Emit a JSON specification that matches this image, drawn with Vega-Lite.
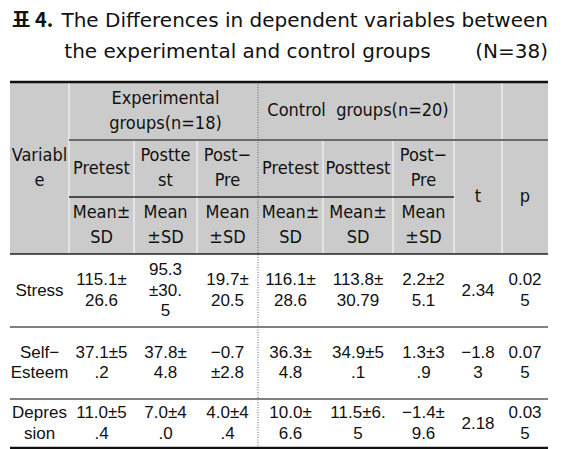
{
  "$schema": "https://vega.github.io/schema/vega-lite/v6.json",
  "width": 568,
  "height": 449,
  "autosize": {"type": "none"},
  "padding": 0,
  "background": "white",
  "config": {"view": {"stroke": null}},
  "datasets": {
    "areas": [{"part": "header", "c0": 0, "c1": 9, "r0": 0, "r1": 3}],
    "hrules": [
      {"kind": "outer", "r": 0, "c0": 0, "c1": 9},
      {"kind": "group", "r": 1, "c0": 1, "c1": 9},
      {"kind": "sub", "r": 2, "c0": 1, "c1": 7},
      {"kind": "head", "r": 3, "c0": 0, "c1": 9},
      {"kind": "row", "r": 4, "c0": 0, "c1": 9},
      {"kind": "row", "r": 5, "c0": 0, "c1": 9},
      {"kind": "outer", "r": 6, "c0": 0, "c1": 9}
    ],
    "vrules": [
      {"kind": "sep", "c": 1, "r0": 0, "r1": 3},
      {"kind": "sep", "c": 2, "r0": 1, "r1": 3},
      {"kind": "sep", "c": 3, "r0": 1, "r1": 3},
      {"kind": "sep", "c": 5, "r0": 1, "r1": 3},
      {"kind": "sep", "c": 6, "r0": 1, "r1": 3},
      {"kind": "sep", "c": 7, "r0": 0, "r1": 3},
      {"kind": "sep", "c": 8, "r0": 0, "r1": 3},
      {"kind": "dotted", "c": 4, "r0": 0, "r1": 6}
    ],
    "title": [
      {"part": "label", "row": -2, "col": 0, "text": "표 4."},
      {"part": "main", "row": -2, "col": 9, "text": "The Differences in dependent variables between"},
      {"part": "main", "row": -1, "col": 9, "text": "the experimental and control groups\u00a0\u00a0\u00a0\u00a0\u00a0\u00a0 (N=38)"}
    ],
    "header": [
      {"row": 1.5, "col": 0.5, "text": "Variabl\ne"},
      {"row": 0.5, "col": 2.5, "text": "Experimental\ngroups(n=18)"},
      {"row": 0.5, "col": 5.5, "text": "Control\u00a0 groups(n=20)"},
      {"row": 2, "col": 7.5, "text": "t"},
      {"row": 2, "col": 8.5, "text": "p"},
      {"row": 1.5, "col": 1.5, "text": "Pretest"},
      {"row": 1.5, "col": 2.5, "text": "Postte\nst"},
      {"row": 1.5, "col": 3.5, "text": "Post−\nPre"},
      {"row": 1.5, "col": 4.5, "text": "Pretest"},
      {"row": 1.5, "col": 5.5, "text": "Posttest"},
      {"row": 1.5, "col": 6.5, "text": "Post−\nPre"},
      {"row": 2.5, "col": 1.5, "text": "Mean±\nSD"},
      {"row": 2.5, "col": 2.5, "text": "Mean\n±SD"},
      {"row": 2.5, "col": 3.5, "text": "Mean\n±SD"},
      {"row": 2.5, "col": 4.5, "text": "Mean±\nSD"},
      {"row": 2.5, "col": 5.5, "text": "Mean±\nSD"},
      {"row": 2.5, "col": 6.5, "text": "Mean\n±SD"}
    ],
    "body": [
      {"row": 3.5, "col": 0.5, "text": "Stress"},
      {"row": 3.5, "col": 1.5, "text": "115.1±\n26.6"},
      {"row": 3.5, "col": 2.5, "text": "95.3\n±30.\n5"},
      {"row": 3.5, "col": 3.5, "text": "19.7±\n20.5"},
      {"row": 3.5, "col": 4.5, "text": "116.1±\n28.6"},
      {"row": 3.5, "col": 5.5, "text": "113.8±\n30.79"},
      {"row": 3.5, "col": 6.5, "text": "2.2±2\n5.1"},
      {"row": 3.5, "col": 7.5, "text": "2.34"},
      {"row": 3.5, "col": 8.5, "text": "0.02\n5"},
      {"row": 4.5, "col": 0.5, "text": "Self−\nEsteem"},
      {"row": 4.5, "col": 1.5, "text": "37.1±5\n.2"},
      {"row": 4.5, "col": 2.5, "text": "37.8±\n4.8"},
      {"row": 4.5, "col": 3.5, "text": "−0.7\n±2.8"},
      {"row": 4.5, "col": 4.5, "text": "36.3±\n4.8"},
      {"row": 4.5, "col": 5.5, "text": "34.9±5\n.1"},
      {"row": 4.5, "col": 6.5, "text": "1.3±3\n.9"},
      {"row": 4.5, "col": 7.5, "text": "−1.8\n3"},
      {"row": 4.5, "col": 8.5, "text": "0.07\n5"},
      {"row": 5.5, "col": 0.5, "text": "Depres\nsion"},
      {"row": 5.5, "col": 1.5, "text": "11.0±5\n.4"},
      {"row": 5.5, "col": 2.5, "text": "7.0±4\n.0"},
      {"row": 5.5, "col": 3.5, "text": "4.0±4\n.4"},
      {"row": 5.5, "col": 4.5, "text": "10.0±\n6.6"},
      {"row": 5.5, "col": 5.5, "text": "11.5±6.\n5"},
      {"row": 5.5, "col": 6.5, "text": "−1.4±\n9.6"},
      {"row": 5.5, "col": 7.5, "text": "2.18"},
      {"row": 5.5, "col": 8.5, "text": "0.03\n5"}
    ]
  },
  "layer": [
    {
      "data": {"name": "areas"},
      "mark": {"type": "rect", "fill": "#cbcbcb", "stroke": null},
      "encoding": {
        "x": {"field": "c0", "type": "quantitative", "axis": null, "scale": {"type": "linear", "domain": [0,1,2,3,4,5,6,7,8,9], "range": [10,69,134,197,258,323,393,454,502,548], "zero": false, "nice": false}},
        "x2": {"field": "c1"},
        "y": {"field": "r0", "type": "quantitative", "axis": null, "scale": {"type": "linear", "domain": [-2,-1,0,1,2,3,4,5,6], "range": [27,58,82,140,197,254,327,399,448], "zero": false, "nice": false}},
        "y2": {"field": "r1"}
      }
    },
    {
      "data": {"name": "vrules"},
      "transform": [{"filter": "datum.kind === 'sep'"}],
      "mark": {"type": "rule", "color": "#ececec", "strokeWidth": 1.5},
      "encoding": {
        "x": {"field": "c", "type": "quantitative"},
        "y": {"field": "r0", "type": "quantitative"},
        "y2": {"field": "r1"}
      }
    },
    {
      "data": {"name": "vrules"},
      "transform": [{"filter": "datum.kind === 'dotted'"}],
      "mark": {"type": "rule", "color": "#666666", "strokeWidth": 1, "strokeDash": [1, 1.5]},
      "encoding": {
        "x": {"field": "c", "type": "quantitative"},
        "y": {"field": "r0", "type": "quantitative"},
        "y2": {"field": "r1"}
      }
    },
    {
      "data": {"name": "hrules"},
      "transform": [{"filter": "datum.kind === 'outer'"}],
      "mark": {"type": "rule", "color": "#111111", "strokeWidth": 2.5},
      "encoding": {
        "x": {"field": "c0", "type": "quantitative"},
        "x2": {"field": "c1"},
        "y": {"field": "r", "type": "quantitative"}
      }
    },
    {
      "data": {"name": "hrules"},
      "transform": [{"filter": "datum.kind === 'group'"}],
      "mark": {"type": "rule", "color": "#6a6a6a", "strokeWidth": 2},
      "encoding": {
        "x": {"field": "c0", "type": "quantitative"},
        "x2": {"field": "c1"},
        "y": {"field": "r", "type": "quantitative"}
      }
    },
    {
      "data": {"name": "hrules"},
      "transform": [{"filter": "datum.kind === 'sub' || datum.kind === 'head'"}],
      "mark": {"type": "rule", "color": "#222222", "strokeWidth": 1.3},
      "encoding": {
        "x": {"field": "c0", "type": "quantitative"},
        "x2": {"field": "c1"},
        "y": {"field": "r", "type": "quantitative"}
      }
    },
    {
      "data": {"name": "hrules"},
      "transform": [{"filter": "datum.kind === 'row'"}],
      "mark": {"type": "rule", "color": "#808080", "strokeWidth": 1.8},
      "encoding": {
        "x": {"field": "c0", "type": "quantitative"},
        "x2": {"field": "c1"},
        "y": {"field": "r", "type": "quantitative"}
      }
    },
    {
      "data": {"name": "title"},
      "transform": [{"filter": "datum.part === 'label'"}],
      "mark": {"type": "text", "align": "left", "baseline": "alphabetic", "dx": 2, "font": "Noto Sans CJK KR", "fontWeight": "bold", "fontSize": 20, "color": "#111111"},
      "encoding": {
        "x": {"field": "col", "type": "quantitative"},
        "y": {"field": "row", "type": "quantitative"},
        "text": {"field": "text"}
      }
    },
    {
      "data": {"name": "title"},
      "transform": [{"filter": "datum.part === 'main'"}],
      "mark": {"type": "text", "align": "right", "baseline": "alphabetic", "font": "DejaVu Sans", "fontSize": 20, "color": "#111111"},
      "encoding": {
        "x": {"field": "col", "type": "quantitative"},
        "y": {"field": "row", "type": "quantitative"},
        "text": {"field": "text"}
      }
    },
    {
      "data": {"name": "header"},
      "transform": [{"filter": "indexof(datum.text, '\\n') < 0"}],
      "mark": {"type": "text", "align": "center", "baseline": "middle", "font": "DejaVu Sans Condensed, Roboto", "fontSize": 18, "lineHeight": 25, "lineBreak": "\n", "color": "#111111"},
      "encoding": {
        "x": {"field": "col", "type": "quantitative"},
        "y": {"field": "row", "type": "quantitative"},
        "text": {"field": "text"}
      }
    },
    {
      "data": {"name": "header"},
      "transform": [{"filter": "indexof(datum.text, '\\n') >= 0"}],
      "mark": {"type": "text", "align": "center", "baseline": "middle", "dy": -12.5, "font": "DejaVu Sans Condensed, Roboto", "fontSize": 18, "lineHeight": 25, "lineBreak": "\n", "color": "#111111"},
      "encoding": {
        "x": {"field": "col", "type": "quantitative"},
        "y": {"field": "row", "type": "quantitative"},
        "text": {"field": "text"}
      }
    },
    {
      "data": {"name": "body"},
      "transform": [{"filter": "indexof(datum.text, '\\n') < 0"}],
      "mark": {"type": "text", "align": "center", "baseline": "middle", "font": "Liberation Sans", "fontSize": 17, "lineHeight": 20.5, "lineBreak": "\n", "color": "#111111"},
      "encoding": {
        "x": {"field": "col", "type": "quantitative"},
        "y": {"field": "row", "type": "quantitative"},
        "text": {"field": "text"}
      }
    },
    {
      "data": {"name": "body"},
      "transform": [{"filter": "indexof(datum.text, '\\n') >= 0 && indexof(datum.text, '\\n') === lastindexof(datum.text, '\\n')"}],
      "mark": {"type": "text", "align": "center", "baseline": "middle", "dy": -10.25, "font": "Liberation Sans", "fontSize": 17, "lineHeight": 20.5, "lineBreak": "\n", "color": "#111111"},
      "encoding": {
        "x": {"field": "col", "type": "quantitative"},
        "y": {"field": "row", "type": "quantitative"},
        "text": {"field": "text"}
      }
    },
    {
      "data": {"name": "body"},
      "transform": [{"filter": "indexof(datum.text, '\\n') >= 0 && indexof(datum.text, '\\n') !== lastindexof(datum.text, '\\n')"}],
      "mark": {"type": "text", "align": "center", "baseline": "middle", "dy": -20.5, "font": "Liberation Sans", "fontSize": 17, "lineHeight": 20.5, "lineBreak": "\n", "color": "#111111"},
      "encoding": {
        "x": {"field": "col", "type": "quantitative"},
        "y": {"field": "row", "type": "quantitative"},
        "text": {"field": "text"}
      }
    }
  ]
}
